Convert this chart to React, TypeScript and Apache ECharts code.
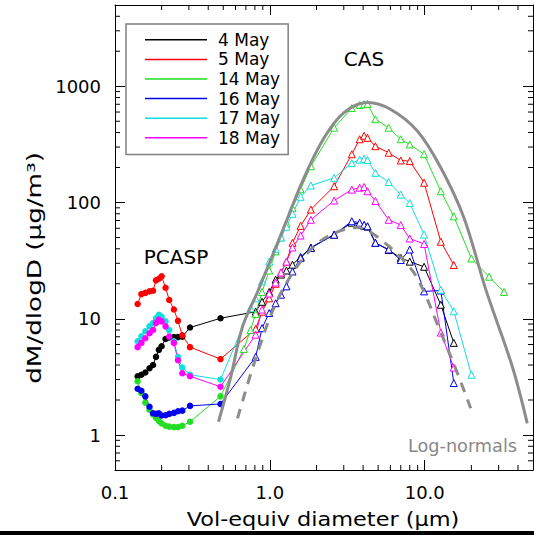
import React, { useEffect, useRef } from 'react';
import * as echarts from 'echarts';

// ---- axis ranges / tick positions ----
const X_MIN = 0.1;
const X_MAX = 50;
const Y_MIN = 0.5;
const Y_MAX = 5000;
const X_MINOR = [0.2, 0.3, 0.4, 0.5, 0.6, 0.7, 0.8, 0.9, 2, 3, 4, 5, 6, 7, 8, 9, 20, 30, 40];
const Y_MINOR = [0.6, 0.7, 0.8, 0.9, 2, 3, 4, 5, 6, 7, 8, 9, 20, 30, 40, 50, 60, 70, 80, 90,
  200, 300, 400, 500, 600, 700, 800, 900, 2000, 3000, 4000];

// ---- PCASP bins (um) and values ----
const PCASP_D = [0.14, 0.148, 0.157, 0.167, 0.176, 0.184, 0.192, 0.2, 0.212, 0.224, 0.24, 0.255, 0.272, 0.305, 0.48];
const P_4MAY = [3.2, 3.3, 3.45, 3.75, 4.0, 4.7, 5.4, 5.8, 6.7, 6.9, 6.95, 6.95, 7.0, 8.4, 10.1];
const P_5MAY = [13.4, 16.3, 16.7, 17.2, 17.4, 21.4, 22.1, 23.2, 18.5, 14.5, 12.0, 9.6, 7.2, 5.7, 4.5];
const P_14MAY = [2.9, 2.3, 1.9, 1.65, 1.5, 1.4, 1.32, 1.26, 1.2, 1.18, 1.17, 1.17, 1.2, 1.3, 2.15];
const P_16MAY = [2.5, 2.4, 2.15, 1.75, 1.54, 1.52, 1.54, 1.47, 1.48, 1.52, 1.55, 1.6, 1.62, 1.78, 1.85];
const P_17MAY = [6.4, 7.05, 7.8, 8.6, 9.2, 10.1, 10.8, 10.4, 9.5, 8.0, 6.4, 4.7, 3.8, 3.3, 3.0];
const P_18MAY = [5.7, 6.2, 6.8, 7.5, 8.0, 9.2, 9.8, 9.5, 8.6, 7.0, 6.2, 4.4, 3.4, 3.2, 2.6];

// ---- CAS bins (um) and values ----
const CAS_D = [0.68, 0.75, 0.81, 0.89, 0.99, 1.09, 1.18, 1.28, 1.4, 1.58, 1.84, 2.6, 3.38, 3.8, 4.06, 4.27,
  4.8, 5.85, 7.0, 8.0, 9.9, 12.7, 15.4, 20, 26, 32.5];
const C_4MAY = [null, null, 11.5, 14, 17, 21.7, 24, 26, 29.2, 34, 41, 53, 67, 65, 63, 62, 45, 39, 33.4, 31, 28, 13.2, 6.2, null, null, null];
const C_5MAY = [null, null, 8.2, 11.5, 15, 20, 25, 31, 45, 63, 87, 138, 260, 350, 375, 360, 305, 268, 230, 227, 148, 46, 29, null, null, null];
const C_14MAY = [5.5, 8.0, 11, 17, 26, 38, 50, 66, 90, 130, 205, 440, 650, 690, 700, 705, 520, 440, 350, 316, 260, 125, 76, 33, 23, 17];
const C_16MAY = [null, null, 4.7, 8.3, 11.2, 13.6, 16.1, 19, 25.5, 33.4, 40.6, 52.8, 69, 67, 64.4, 62.5, 45, 39.4, 32, 39.4, 17.2, 17.5, 2.8, null, null, null];
const C_17MAY = [null, 12.3, 15, 21, 31, 40, 50, 62, 80, 112, 140, 163, 218, 234, 238, 232, 180, 150, 117, 99, 53, 17.8, 11.6, 3.3, null, null];
const C_18MAY = [null, null, 7.3, 12, 16.5, 20.5, 25, 31, 41, 52, 71, 104, 129, 134, 136, 125, 103, 71, 64, 49, 44, 7.6, 3.8, null, null, null];

// ---- log-normal fits ----
const LN_SOLID_D = [0.466, 0.56, 0.665, 0.832, 1.18, 1.66, 2.24, 3.01, 4.27, 6.04, 8.96, 12.7, 17.9, 24.8, 36.7, 45.9];
const LN_SOLID_V = [1.3, 3.2, 8.5, 17, 53, 163, 361, 593, 724, 631, 412, 199, 74, 17.8, 3.9, 1.26];
const LN_DASH_D = [0.618, 0.832, 1.12, 1.58, 2.24, 3.67, 5.2, 8.13, 9.9, 12.05, 15.4, 19.8];
const LN_DASH_V = [1.39, 5.1, 14.5, 31, 49, 61, 48, 27, 17, 9.0, 4.1, 1.7];

const NAMES = ['4 May', '5 May', '14 May', '16 May', '17 May', '18 May'];
const COLORS = ['#000000', '#ff0000', '#22dd22', '#0000ee', '#11dddd', '#ff00ff'];
const PCASP_VALUES = [P_4MAY, P_5MAY, P_14MAY, P_16MAY, P_17MAY, P_18MAY];
const CAS_VALUES = [C_4MAY, C_5MAY, C_14MAY, C_16MAY, C_17MAY, C_18MAY];

const FONT = 'DejaVu Sans';

function buildOption() {
  const dataSeries = NAMES.map((name, k) => {
    const color = COLORS[k];
    const pts: any[] = [];
    PCASP_D.forEach((d, i) => {
      pts.push({ value: [d, PCASP_VALUES[k][i]], symbol: 'circle', symbolSize: 6.5 });
    });
    CAS_D.forEach((d, i) => {
      const v = CAS_VALUES[k][i];
      if (v != null) {
        pts.push({
          value: [d, v], symbol: 'triangle', symbolSize: 7,
          itemStyle: { color: '#ffffff', borderColor: color, borderWidth: 1 },
        });
      }
    });
    return {
      type: 'line', name, data: pts, color,
      showAllSymbol: true,
      lineStyle: { width: 1, color },
      itemStyle: { color },
      z: 3,
    };
  });

  const grayStyle = '#8c8c8c';
  const fitSeries = [
    {
      type: 'line', data: LN_SOLID_D.map((d, i) => [d, LN_SOLID_V[i]]),
      smooth: 0.35, symbol: 'none', lineStyle: { color: grayStyle, width: 3 }, z: 4,
    },
    {
      type: 'line', data: LN_DASH_D.map((d, i) => [d, LN_DASH_V[i]]),
      smooth: 0.35, symbol: 'none', lineStyle: { color: grayStyle, width: 3, type: [10, 8] }, z: 4,
    },
  ];

  const tickLine = (x1: number, y1: number, x2: number, y2: number) => ({
    type: 'line', shape: { x1, y1, x2, y2 }, style: { stroke: '#000', lineWidth: 1 },
  });

  const minorX = {
    type: 'custom', coordinateSystem: 'cartesian2d', silent: true, clip: false, z: 6,
    data: X_MINOR.map((v) => [v, Y_MIN]),
    renderItem: (_p: any, api: any) => {
      const v = api.value(0);
      const b = api.coord([v, Y_MIN]);
      const t = api.coord([v, Y_MAX]);
      return {
        type: 'group',
        children: [tickLine(b[0], b[1], b[0], b[1] - 5), tickLine(t[0], t[1], t[0], t[1] + 5)],
      };
    },
  };
  const minorY = {
    type: 'custom', coordinateSystem: 'cartesian2d', silent: true, clip: false, z: 6,
    data: Y_MINOR.map((v) => [X_MIN, v]),
    renderItem: (_p: any, api: any) => {
      const v = api.value(1);
      const l = api.coord([X_MIN, v]);
      const r = api.coord([X_MAX, v]);
      return {
        type: 'group',
        children: [tickLine(l[0], l[1], l[0] + 5, l[1]), tickLine(r[0], r[1], r[0] - 5, r[1])],
      };
    },
  };

  const axisCommon = {
    type: 'log', logBase: 10,
    axisLine: { show: true, onZero: false, lineStyle: { color: '#000', width: 1 } },
    axisTick: { show: true, inside: true, length: 10, lineStyle: { color: '#000', width: 1 } },
    splitLine: { show: false },
    minorTick: { show: false },
  };

  return {
    animation: false,
    backgroundColor: '#ffffff',
    textStyle: { fontFamily: FONT },
    grid: { left: 115, right: 1, top: 5, bottom: 65, containLabel: false },
    xAxis: [
      {
        ...axisCommon, min: X_MIN, max: X_MAX, position: 'bottom',
        axisLabel: {
          show: true, margin: 13, fontSize: 18, color: '#000', fontFamily: FONT,
          showMinLabel: true, showMaxLabel: false,
          formatter: (v: number) => Number(v).toFixed(1),
        },
      },
      {
        ...axisCommon, min: X_MIN, max: X_MAX, position: 'top',
        axisLabel: { show: false },
      },
    ],
    yAxis: [
      {
        ...axisCommon, min: Y_MIN, max: Y_MAX, position: 'left',
        axisLabel: {
          show: true, margin: 14, fontSize: 18, color: '#000', fontFamily: FONT,
          showMinLabel: false, showMaxLabel: false,
          formatter: (v: number) => String(Math.round(v)),
        },
      },
      {
        ...axisCommon, min: Y_MIN, max: Y_MAX, position: 'right',
        axisLabel: { show: false },
      },
    ],
    legend: {
      orient: 'vertical', left: 126, top: 24,
      data: NAMES, icon: 'rect', itemWidth: 62, itemHeight: 1.5, itemGap: 0,
      padding: [6, 8, 7, 19],
      borderColor: '#808080', borderWidth: 1.5, backgroundColor: '#ffffff',
      selectedMode: false,
      textStyle: { fontSize: 17, color: '#000', fontFamily: FONT, lineHeight: 19.6, padding: [0, 0, 0, 6] },
    },
    graphic: [
      { type: 'text', x: 176, y: 257, z: 10, style: { text: 'PCASP', fontSize: 20, fontFamily: FONT, fill: '#000', align: 'center', verticalAlign: 'middle' } },
      { type: 'text', x: 364, y: 59, z: 10, style: { text: 'CAS', fontSize: 20, fontFamily: FONT, fill: '#000', align: 'center', verticalAlign: 'middle' } },
      { type: 'text', x: 517, y: 446, scaleX: 1.04, z: 10, style: { text: 'Log-normals', fontSize: 17, fontFamily: FONT, fill: '#888888', align: 'right', verticalAlign: 'middle' } },
      { type: 'text', x: 34, y: 268, rotation: Math.PI / 2, scaleX: 1.38, z: 10, style: { text: 'dM/dlogD (μg/m³)', fontSize: 19, fontFamily: FONT, fill: '#000', align: 'center', verticalAlign: 'middle' } },
      { type: 'text', x: 323, y: 520, scaleX: 1.18, z: 10, style: { text: 'Vol-equiv diameter (μm)', fontSize: 19, fontFamily: FONT, fill: '#000', align: 'center', verticalAlign: 'middle' } },
      { type: 'rect', z: 10, shape: { x: 0, y: 531, width: 534, height: 4 }, style: { fill: '#000' } },
    ],
    series: [...dataSeries, ...fitSeries, minorX, minorY],
  };
}

export default function App() {
  const ref = useRef<HTMLDivElement>(null);
  useEffect(() => {
    if (!ref.current) return;
    const chart = echarts.init(ref.current, undefined, { renderer: 'svg' });
    chart.setOption(buildOption() as any);
    return () => chart.dispose();
  }, []);
  return (
    <div
      ref={ref}
      style={{ position: 'absolute', left: 0, top: 0, width: 534, height: 535, background: '#fff' }}
    />
  );
}
